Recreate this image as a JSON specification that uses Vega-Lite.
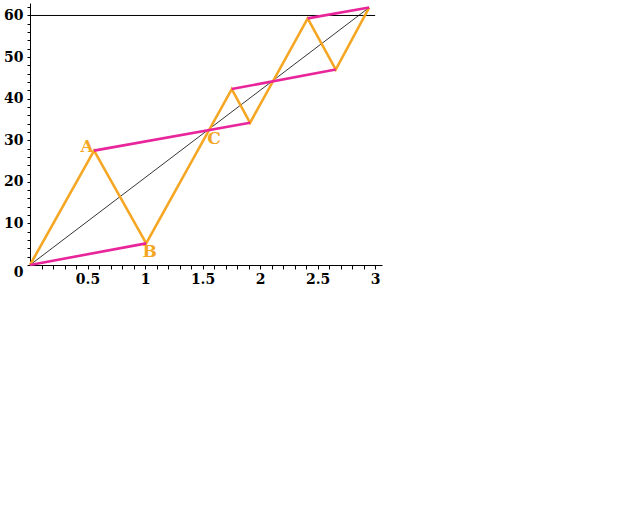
{
  "$schema": "https://vega.github.io/schema/vega-lite/v6.json",
  "autosize": "none",
  "width": 352,
  "height": 262,
  "padding": {"left": 30, "top": 3, "right": 258, "bottom": 247},
  "background": "white",
  "config": {"view": {"stroke": null}},
  "encoding": {
    "x": {"field": "x", "type": "quantitative", "scale": {"domain": [0, 3.06], "nice": false, "zero": false},
      "axis": {
        "values": [0.1,0.2,0.3,0.4,0.5,0.6,0.7,0.8,0.9,1,1.1,1.2,1.3,1.4,1.5,1.6,1.7,1.8,1.9,2,2.1,2.2,2.3,2.4,2.5,2.6,2.7,2.8,2.9,3],
        "labelExpr": "round(datum.value*10) % 5 == 0 ? format(datum.value, '') : ''",
        "title": null, "grid": false, "domainColor": "black", "tickColor": "black",
        "tickSize": 4, "labelPadding": 3, "labelFont": "DejaVu Serif", "labelFontWeight": "bold",
        "labelFontSize": 14, "labelColor": "black", "labelFlush": false, "labelOverlap": false
      }},
    "y": {"field": "y", "type": "quantitative", "scale": {"domain": [0, 63], "nice": false, "zero": false},
      "axis": {
        "values": [0,2,4,6,8,10,12,14,16,18,20,22,24,26,28,30,32,34,36,38,40,42,44,46,48,50,52,54,56,58,60,62],
        "labelExpr": "datum.value % 10 == 0 ? format(datum.value, '') : ''",
        "labelBaseline": {"condition": {"test": "datum.value == 0", "value": "top"}, "value": "middle"},
        "title": null, "grid": false, "domainColor": "black", "tickColor": "black",
        "tickSize": 3, "labelPadding": 4, "labelFont": "DejaVu Serif", "labelFontWeight": "bold",
        "labelFontSize": 14, "labelColor": "black", "labelFlush": false, "labelOverlap": false
      }}
  },
  "layer": [
    {
      "data": {"values": [{"x": 0, "y": 0}, {"x": 2.948, "y": 61.9}]},
      "mark": {"type": "line", "color": "black", "strokeWidth": 0.8}
    },
    {
      "data": {"values": [{"x": 0, "x2": 3.0, "y": 60}]},
      "mark": {"type": "rule", "color": "black", "strokeWidth": 1},
      "encoding": {
        "x2": {"field": "x2"}
      }
    },
    {
      "data": {"values": [
        {"i": 0, "x": 0, "y": 0},
        {"i": 1, "x": 0.557, "y": 27.5},
        {"i": 2, "x": 1.01, "y": 5.2},
        {"i": 3, "x": 1.754, "y": 42.3},
        {"i": 4, "x": 1.913, "y": 34.2},
        {"i": 5, "x": 2.414, "y": 59.3},
        {"i": 6, "x": 2.658, "y": 47.0},
        {"i": 7, "x": 2.948, "y": 61.9}
      ]},
      "mark": {"type": "line", "color": "#F5A623", "strokeWidth": 2.6},
      "encoding": {
        "order": {"field": "i"}
      }
    },
    {
      "data": {"values": [
        {"s": 1, "x": 0, "y": 0}, {"s": 1, "x": 1.01, "y": 5.2},
        {"s": 2, "x": 0.557, "y": 27.5}, {"s": 2, "x": 1.913, "y": 34.2},
        {"s": 3, "x": 1.754, "y": 42.3}, {"s": 3, "x": 2.658, "y": 47.0},
        {"s": 4, "x": 2.414, "y": 59.3}, {"s": 4, "x": 2.948, "y": 61.9}
      ]},
      "mark": {"type": "line", "color": "#E8259A", "strokeWidth": 2.6},
      "encoding": {
        "detail": {"field": "s"}
      }
    },
    {
      "data": {"values": [
        {"t": "A", "x": 0.496, "y": 28.4},
        {"t": "B", "x": 1.04, "y": 3.1},
        {"t": "C", "x": 1.6, "y": 30.4}
      ]},
      "mark": {"type": "text", "color": "#F5A623", "font": "DejaVu Serif", "fontWeight": "bold", "fontSize": 17, "baseline": "middle", "align": "center"},
      "encoding": {
        "text": {"field": "t"}
      }
    }
  ]
}
